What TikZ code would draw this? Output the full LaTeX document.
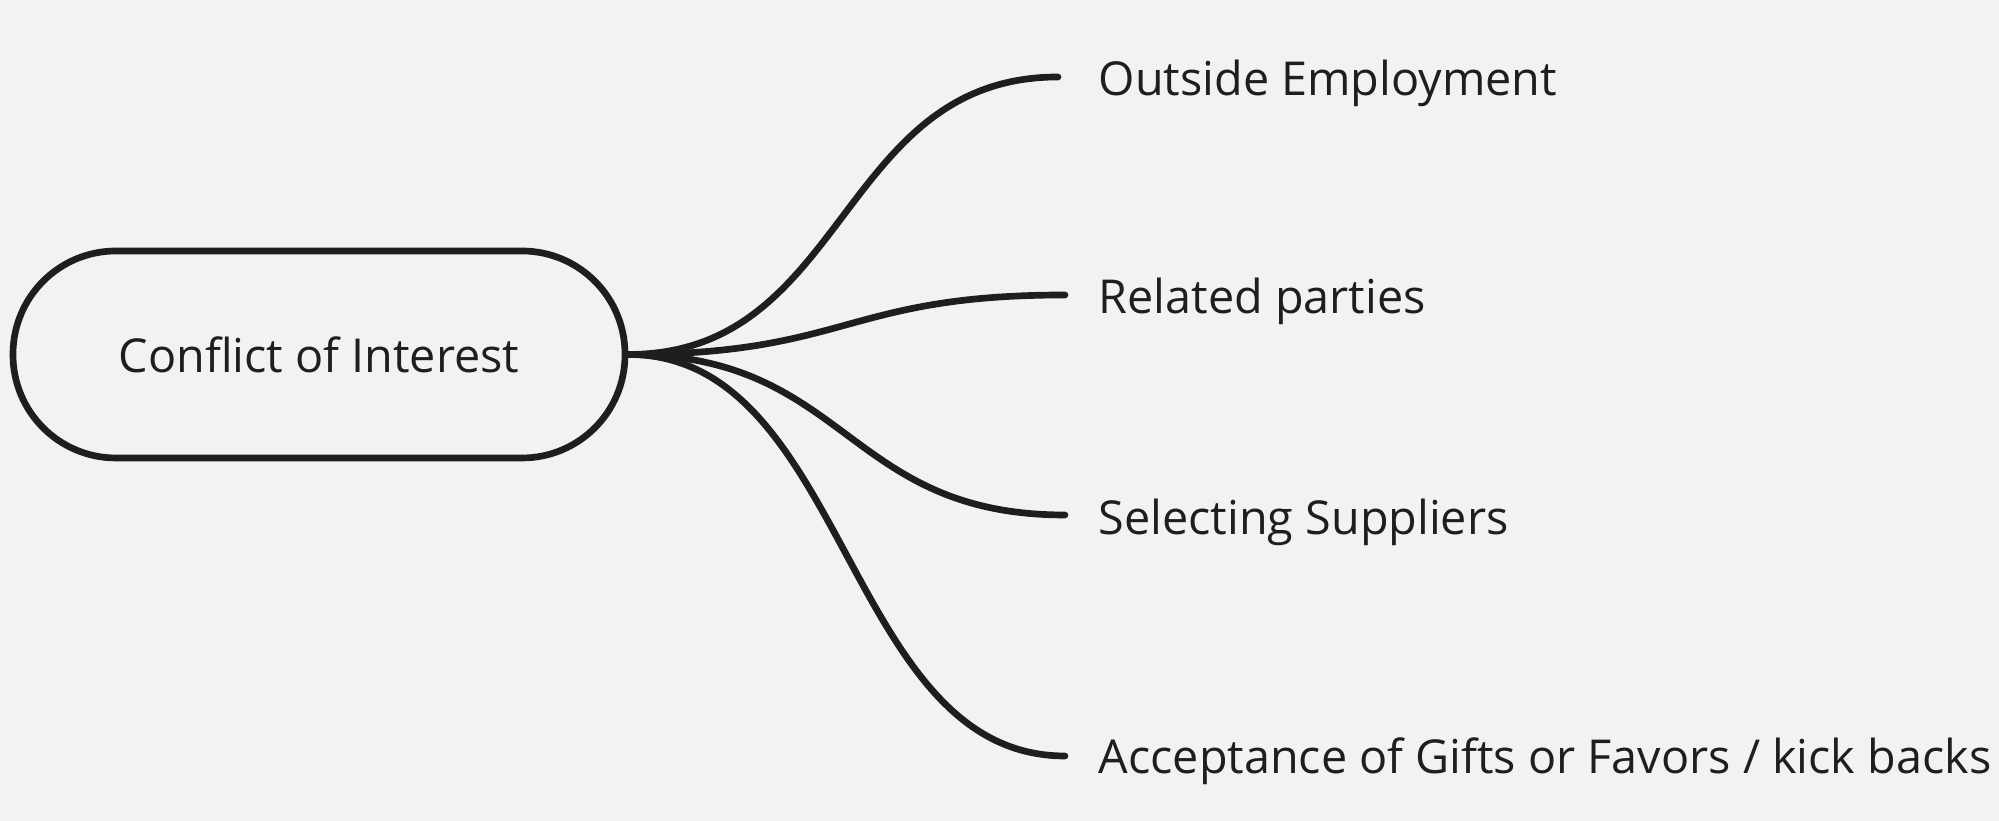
\documentclass[tikz,border=0pt]{standalone}
\usepackage{fontspec}
\setmainfont{Open Sans}
\usepackage{xcolor}
\usetikzlibrary{positioning}

\definecolor{bgcol}{HTML}{F2F2F2}
\definecolor{inkcol}{HTML}{1E1E1E}

\begin{document}
\begin{tikzpicture}[
    rootnode/.style={rectangle, rounded corners=1.03cm, draw=inkcol, line width=1.9pt, minimum width=6.12cm, minimum height=2.07cm, font=\fontsize{13.3}{16}\selectfont, text=inkcol},
    leaf/.style={anchor=west, inner xsep=0pt, font=\fontsize{13.3}{16}\selectfont, text=inkcol},
    branch/.style={draw=inkcol, line width=1.9pt, line cap=round}
  ]
    % Background and frame
    \fill[bgcol] (0,0) rectangle (19.99,8.21);
    \useasboundingbox (0,0) rectangle (19.99,8.21);

    % Main topic
    \node[rootnode] (root) at (3.19,4.665) {Conflict of Interest};

    % Subtopics
    \node[leaf] (outside) at (10.98,7.38) {Outside Employment};
    \node[leaf] (related) at (10.98,5.20) {Related parties};
    \node[leaf] (selecting) at (10.98,2.99) {Selecting Suppliers};
    \node[leaf] (gifts) at (10.98,0.60) {Acceptance of Gifts or Favors / kick backs};

    % Branch ends
    \coordinate (outside-end) at (10.58,7.44);
    \coordinate (related-end) at (10.65,5.26);
    \coordinate (selecting-end) at (10.65,3.06);
    \coordinate (gifts-end) at (10.65,0.65);

    % Draw branches
    \foreach \n in {outside,related,selecting,gifts} {
        \draw[branch] (root.east) to[out=0,in=180,distance=2.2cm] (\n-end);
    }
\end{tikzpicture}
\end{document}
